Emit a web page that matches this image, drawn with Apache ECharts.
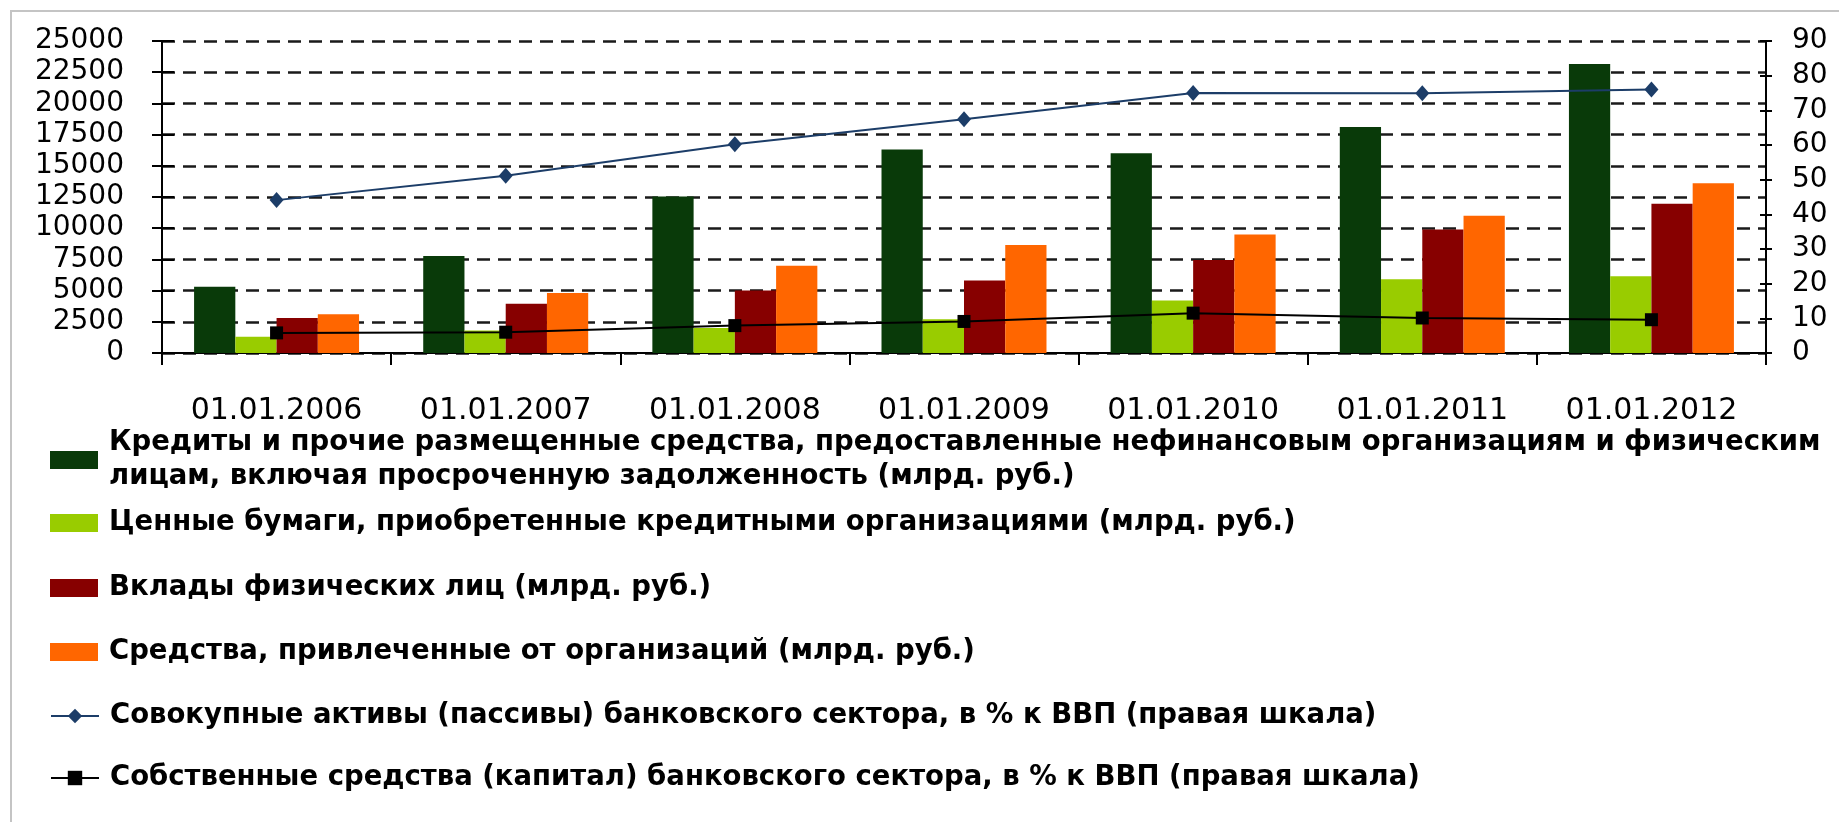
<!DOCTYPE html>
<html>
<head>
<meta charset="utf-8">
<script src="https://cdn.jsdelivr.net/npm/echarts@6/dist/echarts.min.js"></script>
<style>
html,body{margin:0;padding:0;background:#fff;}
#chart{width:1839px;height:822px;}
</style>
</head>
<body>
<div id="chart"></div>
<script>
// ---- data ----
const categories = ['01.01.2006','01.01.2007','01.01.2008','01.01.2009','01.01.2010','01.01.2011','01.01.2012'];
const credits   = [5300, 7770, 12550, 16300, 16000, 18100, 23150];
const securities = [1300, 1800, 2000, 2700, 4200, 5900, 6150];
const deposits  = [2800, 3950, 5000, 5800, 7450, 9900, 11950];
const orgFunds  = [3100, 4800, 7000, 8650, 9500, 11000, 13600];
const assetsGdp = [44.1, 51.1, 60.2, 67.4, 75.0, 74.9, 76.0];
const capitalGdp = [5.8, 6.0, 7.9, 9.1, 11.5, 10.1, 9.6];
const leftTicks = {min: 0, max: 25000, interval: 2500};
const rightTicks = {min: 0, max: 90, interval: 10};
const names = [
  'Кредиты и прочие размещенные средства, предоставленные нефинансовым организациям и физическим лицам, включая просроченную задолженность (млрд. руб.)',
  'Ценные бумаги, приобретенные кредитными организациями (млрд. руб.)',
  'Вклады физических лиц (млрд. руб.)',
  'Средства, привлеченные от организаций (млрд. руб.)',
  'Совокупные активы (пассивы) банковского сектора, в % к ВВП (правая шкала)',
  'Собственные средства (капитал) банковского сектора, в % к ВВП (правая шкала)'
];
const colors = ['#093a09', '#99cc00', '#870000', '#ff6600', '#1c3d68', '#000000'];

// ---- chart ----
const chart = echarts.init(document.getElementById('chart'), null, {renderer: 'canvas'});
const FONT = 'DejaVu Sans';
const rowY = [456, 523, 588, 652, 716, 778];

function legendFor(i) {
  const first = i === 0;
  const isBar = i < 4;
  return {
    data: [isBar ? {name: names[i], icon: 'rect'} : names[i]],
    left: 45,
    top: rowY[i] - (first ? 52 : 20),
    orient: 'vertical',
    itemWidth: 48,
    itemHeight: 18,
    padding: 5,
    selectedMode: false,
    formatter: first ? function (n) { return n.replace('физическим ', 'физическим\n'); } : undefined,
    textStyle: {
      fontFamily: FONT, fontSize: 27.5, fontWeight: 'bold', color: '#000', lineHeight: first ? 34 : 30,
      padding: first ? [34, 0, 0, 6] : [0, 0, 0, 6]
    }
  };
}

const axisLineStyle = {color: '#000', width: 2};
const plain = function (v) { return String(v); };

const option = {
  animation: false,
  backgroundColor: '#fff',
  graphic: [{
    type: 'rect', z: -10, silent: true,
    shape: {x: 11, y: 11, width: 1900, height: 900},
    style: {fill: 'none', stroke: '#c4c4c4', lineWidth: 2}
  }],
  legend: [0,1,2,3,4,5].map(legendFor),
  grid: {left: 162, right: 73, top: 41, height: 312, containLabel: false},
  xAxis: {
    type: 'category',
    data: categories,
    boundaryGap: true,
    axisLine: {lineStyle: axisLineStyle},
    axisTick: {show: true, length: 12, lineStyle: axisLineStyle},
    axisLabel: {fontFamily: FONT, fontSize: 30, color: '#000', margin: 43}
  },
  yAxis: [
    {
      type: 'value', position: 'left', ...leftTicks,
      axisLine: {show: true, lineStyle: axisLineStyle},
      axisTick: {show: true, length: 10, lineStyle: axisLineStyle},
      axisLabel: {fontFamily: FONT, fontSize: 28, color: '#000', margin: 38, formatter: plain},
      splitLine: {show: true, lineStyle: {color: '#1a1a1a', width: 2.5, type: [13, 8]}}
    },
    {
      type: 'value', position: 'right', ...rightTicks,
      axisLine: {show: true, lineStyle: axisLineStyle},
      axisTick: {show: true, length: 6, lineStyle: axisLineStyle},
      axisLabel: {fontFamily: FONT, fontSize: 28, color: '#000', margin: 26, formatter: plain},
      splitLine: {show: false}
    },
    {
      type: 'value', position: 'left', ...leftTicks,
      axisLine: {show: false},
      axisTick: {show: true, inside: true, length: 12, lineStyle: axisLineStyle},
      axisLabel: {show: false},
      splitLine: {show: false}
    },
    {
      type: 'value', position: 'right', ...rightTicks,
      axisLine: {show: false},
      axisTick: {show: true, inside: true, length: 6, lineStyle: axisLineStyle},
      axisLabel: {show: false},
      splitLine: {show: false}
    }
  ],
  series: [
    {name: names[0], type: 'bar', data: credits, itemStyle: {color: colors[0]}, barGap: '0%', barCategoryGap: '28%'},
    {name: names[1], type: 'bar', data: securities, itemStyle: {color: colors[1]}, barGap: '0%', barCategoryGap: '28%'},
    {name: names[2], type: 'bar', data: deposits, itemStyle: {color: colors[2]}, barGap: '0%', barCategoryGap: '28%'},
    {name: names[3], type: 'bar', data: orgFunds, itemStyle: {color: colors[3]}, barGap: '0%', barCategoryGap: '28%'},
    {name: names[4], type: 'line', yAxisIndex: 1, data: assetsGdp, z: 5,
      symbol: 'diamond', symbolSize: [14, 16],
      itemStyle: {color: colors[4]}, lineStyle: {color: colors[4], width: 2}},
    {name: names[5], type: 'line', yAxisIndex: 1, data: capitalGdp, z: 5,
      symbol: 'rect', symbolSize: 13,
      itemStyle: {color: colors[5]}, lineStyle: {color: colors[5], width: 2}}
  ]
};
chart.setOption(option);
</script>
</body>
</html>
